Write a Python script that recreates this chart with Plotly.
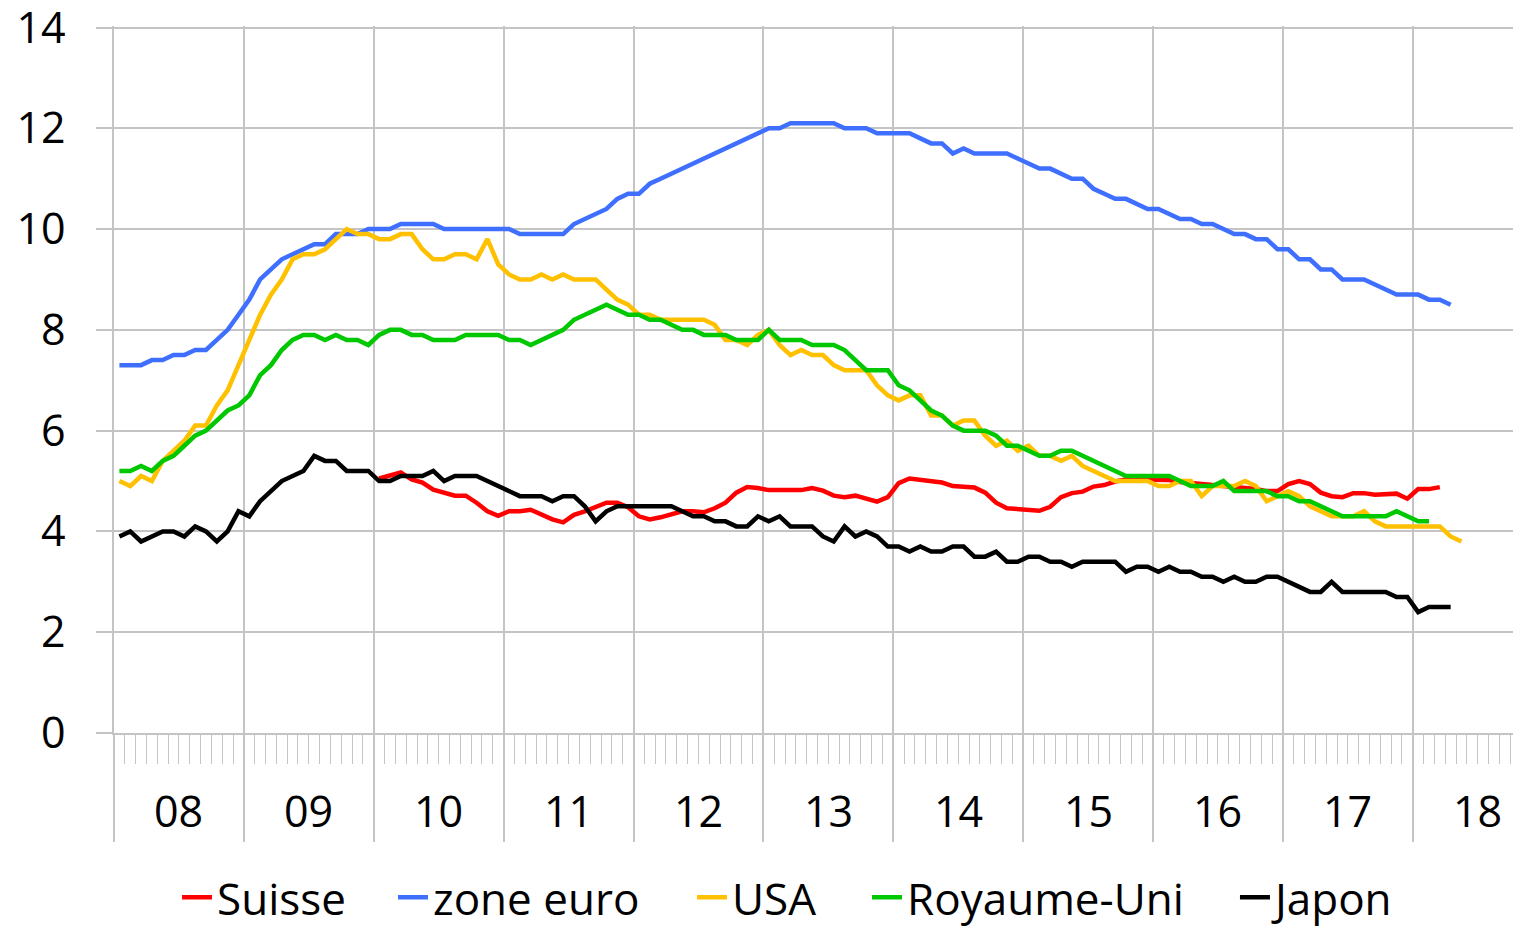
import plotly.graph_objects as go

# ---- data (monthly, Jan 2008 = index 0) ----
year_labels = ["08", "09", "10", "11", "12", "13", "14", "15", "16", "17", "18"]
n_months = 130  # axis covers Jan 2008 .. Oct 2018

suisse = [None] * 24 + [
    5.05, 5.12, 5.17, 5.03, 4.97, 4.83, 4.76, 4.71, 4.71, 4.57, 4.40, 4.31,
    4.40, 4.40, 4.43, 4.34, 4.24, 4.18, 4.33, 4.40, 4.48, 4.57, 4.57, 4.48,
    4.30, 4.24, 4.28, 4.33, 4.40, 4.40, 4.38, 4.46, 4.57, 4.77, 4.88, 4.86,
    4.82, 4.82, 4.82, 4.82, 4.86, 4.81, 4.71, 4.68, 4.71, 4.64, 4.59, 4.68,
    4.96, 5.05, 5.02, 4.99, 4.97, 4.90, 4.88, 4.87, 4.77, 4.57, 4.46, 4.44,
    4.41, 4.41, 4.49, 4.68, 4.76, 4.79, 4.89, 4.92, 4.99, 5.03, 5.03, 5.03,
    5.02, 5.02, 4.98, 4.96, 4.94, 4.92, 4.91, 4.90, 4.88, 4.84, 4.80, 4.80,
    4.94, 5.00, 4.94, 4.77, 4.70, 4.68, 4.76, 4.76, 4.73, 4.75, 4.75, 4.65,
    4.84, 4.84, 4.88,
]

zone_euro = [
    7.3, 7.3, 7.3, 7.4, 7.4, 7.5, 7.5, 7.6, 7.6, 7.8, 8.0, 8.3,
    8.6, 9.0, 9.2, 9.4, 9.5, 9.6, 9.7, 9.7, 9.9, 9.9, 9.9, 10.0,
    10.0, 10.0, 10.1, 10.1, 10.1, 10.1, 10.0, 10.0, 10.0, 10.0, 10.0, 10.0,
    10.0, 9.9, 9.9, 9.9, 9.9, 9.9, 10.1, 10.2, 10.3, 10.4, 10.6, 10.7,
    10.7, 10.9, 11.0, 11.1, 11.2, 11.3, 11.4, 11.5, 11.6, 11.7, 11.8, 11.9,
    12.0, 12.0, 12.1, 12.1, 12.1, 12.1, 12.1, 12.0, 12.0, 12.0, 11.9, 11.9,
    11.9, 11.9, 11.8, 11.7, 11.7, 11.5, 11.6, 11.5, 11.5, 11.5, 11.5, 11.4,
    11.3, 11.2, 11.2, 11.1, 11.0, 11.0, 10.8, 10.7, 10.6, 10.6, 10.5, 10.4,
    10.4, 10.3, 10.2, 10.2, 10.1, 10.1, 10.0, 9.9, 9.9, 9.8, 9.8, 9.6,
    9.6, 9.4, 9.4, 9.2, 9.2, 9.0, 9.0, 9.0, 8.9, 8.8, 8.7, 8.7,
    8.7, 8.6, 8.6, 8.5,
]

usa = [
    5.0, 4.9, 5.1, 5.0, 5.4, 5.6, 5.8, 6.1, 6.1, 6.5, 6.8, 7.3,
    7.8, 8.3, 8.7, 9.0, 9.4, 9.5, 9.5, 9.6, 9.8, 10.0, 9.9, 9.9,
    9.8, 9.8, 9.9, 9.9, 9.6, 9.4, 9.4, 9.5, 9.5, 9.4, 9.8, 9.3,
    9.1, 9.0, 9.0, 9.1, 9.0, 9.1, 9.0, 9.0, 9.0, 8.8, 8.6, 8.5,
    8.3, 8.3, 8.2, 8.2, 8.2, 8.2, 8.2, 8.1, 7.8, 7.8, 7.7, 7.9,
    8.0, 7.7, 7.5, 7.6, 7.5, 7.5, 7.3, 7.2, 7.2, 7.2, 6.9, 6.7,
    6.6, 6.7, 6.7, 6.3, 6.3, 6.1, 6.2, 6.2, 5.9, 5.7, 5.8, 5.6,
    5.7, 5.5, 5.5, 5.4, 5.5, 5.3, 5.2, 5.1, 5.0, 5.0, 5.0, 5.0,
    4.9, 4.9, 5.0, 5.0, 4.7, 4.9, 4.9, 4.9, 5.0, 4.9, 4.6, 4.7,
    4.8, 4.7, 4.5, 4.4, 4.3, 4.3, 4.3, 4.4, 4.2, 4.1, 4.1, 4.1,
    4.1, 4.1, 4.1, 3.9, 3.8,
]

royaume_uni = [
    5.2, 5.2, 5.3, 5.2, 5.4, 5.5, 5.7, 5.9, 6.0, 6.2, 6.4, 6.5,
    6.7, 7.1, 7.3, 7.6, 7.8, 7.9, 7.9, 7.8, 7.9, 7.8, 7.8, 7.7,
    7.9, 8.0, 8.0, 7.9, 7.9, 7.8, 7.8, 7.8, 7.9, 7.9, 7.9, 7.9,
    7.8, 7.8, 7.7, 7.8, 7.9, 8.0, 8.2, 8.3, 8.4, 8.5, 8.4, 8.3,
    8.3, 8.2, 8.2, 8.1, 8.0, 8.0, 7.9, 7.9, 7.9, 7.8, 7.8, 7.8,
    8.0, 7.8, 7.8, 7.8, 7.7, 7.7, 7.7, 7.6, 7.4, 7.2, 7.2, 7.2,
    6.9, 6.8, 6.6, 6.4, 6.3, 6.1, 6.0, 6.0, 6.0, 5.9, 5.7, 5.7,
    5.6, 5.5, 5.5, 5.6, 5.6, 5.5, 5.4, 5.3, 5.2, 5.1, 5.1, 5.1,
    5.1, 5.1, 5.0, 4.9, 4.9, 4.9, 5.0, 4.8, 4.8, 4.8, 4.8, 4.7,
    4.7, 4.6, 4.6, 4.5, 4.4, 4.3, 4.3, 4.3, 4.3, 4.3, 4.4, 4.3,
    4.2, 4.2,
]

japon = [
    3.9, 4.0, 3.8, 3.9, 4.0, 4.0, 3.9, 4.1, 4.0, 3.8, 4.0, 4.4,
    4.3, 4.6, 4.8, 5.0, 5.1, 5.2, 5.5, 5.4, 5.4, 5.2, 5.2, 5.2,
    5.0, 5.0, 5.1, 5.1, 5.1, 5.2, 5.0, 5.1, 5.1, 5.1, 5.0, 4.9,
    4.8, 4.7, 4.7, 4.7, 4.6, 4.7, 4.7, 4.5, 4.2, 4.4, 4.5, 4.5,
    4.5, 4.5, 4.5, 4.5, 4.4, 4.3, 4.3, 4.2, 4.2, 4.1, 4.1, 4.3,
    4.2, 4.3, 4.1, 4.1, 4.1, 3.9, 3.8, 4.1, 3.9, 4.0, 3.9, 3.7,
    3.7, 3.6, 3.7, 3.6, 3.6, 3.7, 3.7, 3.5, 3.5, 3.6, 3.4, 3.4,
    3.5, 3.5, 3.4, 3.4, 3.3, 3.4, 3.4, 3.4, 3.4, 3.2, 3.3, 3.3,
    3.2, 3.3, 3.2, 3.2, 3.1, 3.1, 3.0, 3.1, 3.0, 3.0, 3.1, 3.1,
    3.0, 2.9, 2.8, 2.8, 3.0, 2.8, 2.8, 2.8, 2.8, 2.8, 2.7, 2.7,
    2.4, 2.5, 2.5, 2.5,
]

series = [
    ("Suisse", suisse, "#FF0000"),
    ("zone euro", zone_euro, "#3F6FFF"),
    ("USA", usa, "#FFC000"),
    ("Royaume-Uni", royaume_uni, "#00C800"),
    ("Japon", japon, "#000000"),
]

GRID = "#C4C4C4"
FONT = "Open Sans"

# legend entry positions (fraction of plot width), one legend box per series
legend_x = [0.0448, 0.1983, 0.4108, 0.5352, 0.7967]
legend_ids = ["legend", "legend2", "legend3", "legend4", "legend5"]

fig = go.Figure()
for (name, vals, color), lid in zip(series, legend_ids):
    fig.add_trace(go.Scatter(
        x=[i + 0.5 for i in range(len(vals))],  # month centres on category axis
        y=vals,
        mode="lines",
        name=name,
        legend=lid,
        line=dict(color=color, width=4.5),
        connectgaps=False,
    ))

year_bounds = list(range(0, 121, 12))
year_mids = [b + 6 for b in year_bounds]

# year labels centred in each year band
for mid, lab in zip(year_mids, year_labels):
    fig.add_annotation(
        x=mid, xref="x", y=-0.109, yref="paper",
        text=lab, showarrow=False, xanchor="center", yanchor="middle",
        font=dict(family=FONT, size=43, color="#000000"),
    )

legends = {}
for lid, lx in zip(legend_ids, legend_x):
    legends[lid] = dict(
        orientation="h", x=lx, xanchor="left", xref="paper",
        y=0.036, yanchor="middle", yref="container",
        font=dict(family=FONT, size=44, color="#000000"),
        bgcolor="rgba(0,0,0,0)",
    )

fig.update_layout(
    width=1513, height=923,
    margin=dict(l=106, r=0, t=18, b=198, autoexpand=False),
    paper_bgcolor="white", plot_bgcolor="white",
    font=dict(family=FONT, size=43, color="#000000"),
    showlegend=True,
    xaxis=dict(
        range=[0, n_months], automargin=False,
        tickmode="array", tickvals=year_bounds,
        showticklabels=False,
        showgrid=True, gridcolor=GRID, gridwidth=1.5,
        ticks="outside", ticklen=107, tickcolor=GRID, tickwidth=1.5,
        showline=True, linecolor=GRID, linewidth=1.5,
        zeroline=False,
        minor=dict(dtick=1, tick0=0, ticks="outside", ticklen=29,
                   tickcolor=GRID, tickwidth=1.2, showgrid=False),
    ),
    yaxis=dict(
        range=[0, 14.03], automargin=False,
        tickmode="array", tickvals=[0, 2, 4, 6, 8, 10, 12, 14],
        showgrid=True, gridcolor=GRID, gridwidth=1.5,
        zeroline=False,
        showline=True, linecolor=GRID, linewidth=1.5,
        ticks="outside", ticklen=16, tickcolor=GRID, tickwidth=1.5,
        ticklabelstandoff=22, ticklabeloverflow="allow",
        tickfont=dict(family=FONT, size=43, color="#000000"),
    ),
    **legends,
)

fig.write_html("out.html")
